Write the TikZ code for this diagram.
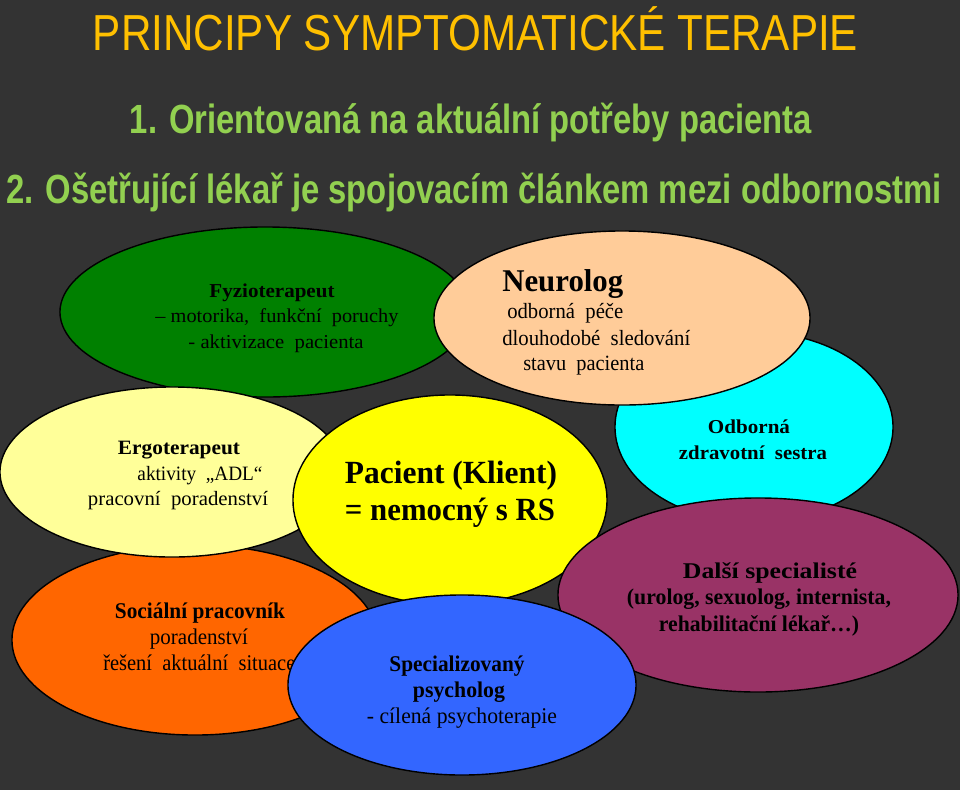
\documentclass[tikz,border=0pt]{standalone}
\usepackage{fontspec}
\usepackage{graphicx}
\setmainfont{Liberation Serif}
\newfontfamily\sansf{Liberation Sans}
\usetikzlibrary{shapes.geometric}
\definecolor{bgc}{HTML}{333333}
\definecolor{titc}{HTML}{FFC000}
\definecolor{subc}{HTML}{92D050}
\definecolor{cgreen}{HTML}{008000}
\definecolor{cpeach}{HTML}{FFCC99}
\definecolor{ccyan}{HTML}{00FFFF}
\definecolor{clyel}{HTML}{FFFF99}
\definecolor{cyel}{HTML}{FFFF00}
\definecolor{corange}{HTML}{FF6600}
\definecolor{cpurple}{HTML}{993366}
\definecolor{cblue}{HTML}{3366FF}
\newlength\fitlen
\newcommand\fitw[2]{\settowidth\fitlen{#2}\pgfmathsetmacro\fitr{#1*0.71132/\fitlen}\scalebox{\fitr}[1]{#2}}
\tikzset{
  blob/.style={ellipse, draw=black, line width=1pt, inner sep=0pt},
  txt/.style={anchor=base, inner sep=0pt, text=black},
}
\begin{document}
\begin{tikzpicture}[x=0.025cm, y=-0.025cm]
\fill[bgc] (0,0) rectangle (960,790);
\useasboundingbox (0,0) rectangle (960,790);
% titles
\node[txt, text=titc] (title) at (475.5,50) {\fitw{765}{\sansf\fontsize{36pt}{40pt}\selectfont PRINCIPY SYMPTOMATICKÉ TERAPIE}};
\node[txt, text=subc] (sub1) at (471,133) {\fitw{682}{\sansf\bfseries\fontsize{29pt}{32pt}\selectfont 1. Orientovaná na aktuální potřeby pacienta}};
\node[txt, text=subc] (sub2) at (474,203) {\fitw{935}{\sansf\bfseries\fontsize{29pt}{32pt}\selectfont 2. Ošetřující lékař je spojovacím článkem mezi odbornostmi}};
% green
\node[blob, fill=cgreen, minimum width=10.25cm, minimum height=4.25cm] (fyz) at (265,312) {};
\node[txt] (fyz1) at (272,297) {\fitw{125}{\bfseries\fontsize{14pt}{16pt}\selectfont Fyzioterapeut}};
\node[txt] (fyz2) at (277,322) {\fitw{243}{\fontsize{14pt}{16pt}\selectfont – motorika,\ \ funkční\ \ poruchy}};
\node[txt] (fyz3) at (276,348) {\fitw{175}{\fontsize{14pt}{16pt}\selectfont - aktivizace\ \ pacienta}};
% cyan
\node[blob, fill=ccyan, minimum width=6.95cm, minimum height=4.75cm] (ses) at (754,427) {};
\node[txt] (ses1) at (749,433) {\fitw{82}{\bfseries\fontsize{14pt}{16pt}\selectfont Odborná}};
\node[txt] (ses2) at (753,459) {\fitw{148}{\bfseries\fontsize{14pt}{16pt}\selectfont zdravotní\ \ sestra}};
% neurolog
\node[blob, fill=cpeach, minimum width=9.4cm, minimum height=4.35cm] (neu) at (622,318) {};
\node[txt, anchor=base west] (neu1) at (502,291) {\fitw{121}{\bfseries\fontsize{22.5pt}{26pt}\selectfont Neurolog}};
\node[txt, anchor=base west] (neu2) at (507,318) {\fitw{116}{\fontsize{15.5pt}{18pt}\selectfont odborná\ \ péče}};
\node[txt, anchor=base west] (neu3) at (502,345) {\fitw{188}{\fontsize{15.5pt}{18pt}\selectfont dlouhodobé\ \ sledování}};
\node[txt, anchor=base west] (neu4) at (523,370) {\fitw{121}{\fontsize{15.5pt}{18pt}\selectfont stavu\ \ pacienta}};
% orange
\node[blob, fill=corange, minimum width=9.15cm, minimum height=4.75cm] (soc) at (195,640) {};
\node[txt] (soc1) at (200,618) {\fitw{170}{\bfseries\fontsize{16pt}{18pt}\selectfont Sociální pracovník}};
\node[txt] (soc2) at (199,644) {\fitw{98}{\fontsize{16pt}{18pt}\selectfont poradenství}};
\node[txt, anchor=base west] (soc3) at (103,670) {\fitw{192}{\fontsize{16pt}{18pt}\selectfont řešení\ \ aktuální\ \ situace}};
% ergo
\node[blob, fill=clyel, minimum width=8.6cm, minimum height=4.25cm] (erg) at (172,472) {};
\node[txt] (erg1) at (179,454) {\fitw{122}{\bfseries\fontsize{14.5pt}{16pt}\selectfont Ergoterapeut}};
\node[txt] (erg2) at (200,480) {\fitw{125}{\fontsize{14.5pt}{16pt}\selectfont aktivity\ \ „ADL“}};
\node[txt] (erg3) at (178,505) {\fitw{180}{\fontsize{14.5pt}{16pt}\selectfont pracovní\ \ poradenství}};
% pacient
\node[blob, fill=cyel, minimum width=7.85cm, minimum height=5.25cm] (pac) at (450,500) {};
\node[txt] (pac1) at (451,483) {\fitw{212}{\bfseries\fontsize{23pt}{26pt}\selectfont Pacient (Klient)}};
\node[txt] (pac2) at (450,520) {\fitw{210}{\bfseries\fontsize{23pt}{26pt}\selectfont = nemocný s RS}};
% purple
\node[blob, fill=cpurple, minimum width=10cm, minimum height=4.85cm] (dal) at (758,595) {};
\node[txt] (dal1) at (770,578) {\fitw{174}{\bfseries\fontsize{16pt}{18pt}\selectfont Další specialisté}};
\node[txt] (dal2) at (759,604) {\fitw{264}{\bfseries\fontsize{16pt}{18pt}\selectfont (urolog, sexuolog, internista,}};
\node[txt] (dal3) at (759,631) {\fitw{200}{\bfseries\fontsize{16pt}{18pt}\selectfont rehabilitační lékař…)}};
% blue
\node[blob, fill=cblue, minimum width=8.7cm, minimum height=4.5cm] (psy) at (462,685) {};
\node[txt] (psy1) at (457,671) {\fitw{135}{\bfseries\fontsize{16pt}{18pt}\selectfont Specializovaný}};
\node[txt] (psy2) at (459,697) {\fitw{92}{\bfseries\fontsize{16pt}{18pt}\selectfont psycholog}};
\node[txt] (psy3) at (462,723) {\fitw{190}{\fontsize{16pt}{18pt}\selectfont - cílená psychoterapie}};
\end{tikzpicture}
\end{document}
